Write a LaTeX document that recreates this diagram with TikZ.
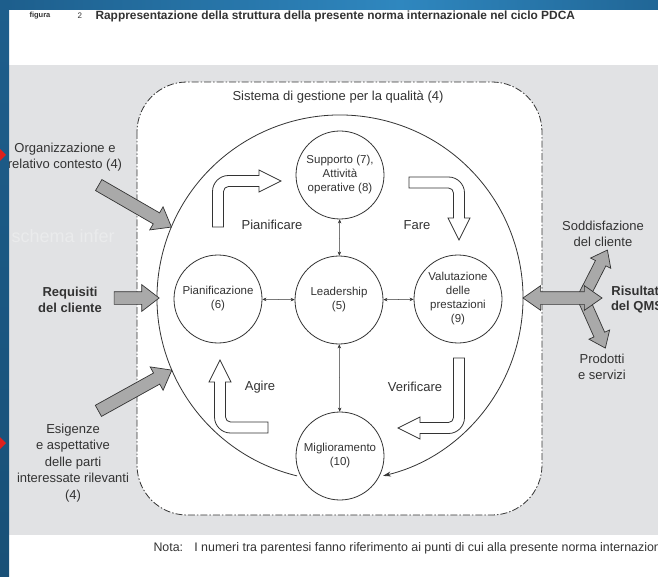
\documentclass[tikz,border=0pt]{standalone}
\usepackage{fontspec}
\setmainfont{Liberation Sans}
\usetikzlibrary{shapes.arrows,arrows.meta}

\definecolor{ink}{HTML}{333333}
\definecolor{panel}{HTML}{E1E2E4}
\definecolor{flowgrey}{HTML}{A9A9A9}
\definecolor{bluedark}{HTML}{1D5E8C}
\definecolor{bluemid}{HTML}{2F87BF}
\definecolor{redmark}{HTML}{E0201C}

\tikzset{
  proc/.style={circle, draw=ink, line width=0.8pt, fill=white, minimum size=88pt,
    inner sep=0pt, align=center, text=ink, font=\fontsize{11.5}{14}\selectfont},
  lbl/.style={align=center, text=ink, font=\fontsize{13}{16.5}\selectfont},
  hollow/.style={draw=ink, fill=white, line width=0.8pt},
  link/.style={{Stealth[length=4pt,width=3.5pt]}-{Stealth[length=4pt,width=3.5pt]}, line width=0.5pt, draw=ink},
  inflow/.style={single arrow, draw=ink, fill=flowgrey, line width=0.7pt, minimum width=26pt,
    single arrow head extend=7pt, single arrow tip angle=75, inner xsep=0pt, inner ysep=6pt},
  outflow/.style={double arrow, draw=ink, fill=flowgrey, line width=0.7pt, minimum width=24pt,
    double arrow head extend=6pt, double arrow tip angle=70, inner xsep=0pt, inner ysep=6pt}
}

\begin{document}
\begin{tikzpicture}[x=1pt,y=-1pt]
\useasboundingbox (0,0) rectangle (658,577);
\fill[white] (0,0) rectangle (658,577);
\fill[panel] (9,65) rectangle (658,535);
\node (ghost) [anchor=west, text=white!30!panel, font=\fontsize{18}{18}\selectfont] at (8,236) {schema infer};

% quality management system
\draw[draw=ink, fill=white, line width=0.8pt, rounded corners=50pt,
  dash pattern=on 7pt off 2pt on 1.5pt off 2pt] (137,82) rectangle (542,515);
\node (qmsname) [lbl] at (338,97) {Sistema di gestione per la qualità (4)};
\coordinate (pdca) at (340,298);
\draw[ink, line width=0.8pt, -{Stealth[length=8pt,width=5pt]}]
  (pdca) ++(103.6:183) arc[start angle=103.6, end angle=436.4, radius=183];

% PDCA arrows
\draw[hollow] (212.5,227) -- (212.5,191.5) .. controls (212.5,182.67) and (219.67,175.5) .. (228.5,175.5)
  -- (259,175.5) -- (259,170) -- (281,181) -- (259,192) -- (259,186.5) -- (228.5,186.5)
  .. controls (225.74,186.5) and (223.5,188.74) .. (223.5,191.5) -- (223.5,227) -- cycle;
\draw[hollow] (409,177) -- (448.5,177) .. controls (457.33,177) and (464.5,184.17) .. (464.5,193)
  -- (464.5,218) -- (470,218) -- (459,240) -- (448,218) -- (453.5,218) -- (453.5,193)
  .. controls (453.5,190.24) and (451.26,188) .. (448.5,188) -- (409,188) -- cycle;
\draw[hollow] (453.5,358) -- (464.5,358) -- (464.5,417.5) .. controls (464.5,426.33) and (457.33,433.5) .. (448.5,433.5)
  -- (420,433.5) -- (420,439) -- (398,428) -- (420,417) -- (420,422.5) -- (448.5,422.5)
  .. controls (451.26,422.5) and (453.5,420.26) .. (453.5,417.5) -- cycle;
\draw[hollow] (268,422) -- (268,433) -- (230.5,433) .. controls (221.67,433) and (214.5,425.83) .. (214.5,417)
  -- (214.5,382) -- (209,382) -- (220,360) -- (231,382) -- (225.5,382) -- (225.5,417)
  .. controls (225.5,419.76) and (227.74,422) .. (230.5,422) -- cycle;
\node (plan) [lbl] at (272,225) {Pianificare};
\node (do) [lbl] at (417,225) {Fare};
\node (check) [lbl] at (415,387) {Verificare};
\node (act) [lbl] at (260,387) {Agire};

% clauses
\node (sup) [proc] at (340,175) {Supporto (7),\\Attività\\operative (8)};
\node (lead) [proc] at (339,300) {Leadership\\(5)};
\node (pian) [proc] at (218,299) {Pianificazione\\(6)};
\node (val) [proc] at (458,299) {Valutazione\\delle\\prestazioni\\(9)};
\node (mig) [proc] at (340,456) {Miglioramento\\(10)};
\draw[link] (lead) -- (sup);
\draw[link] (lead) -- (mig);
\draw[link] (lead) -- (pian);
\draw[link] (lead) -- (val);

% inputs
\node (ctxarrow) [inflow, minimum height=84pt, rotate=-30] at (131.5,204) {};
\node (reqarrow) [inflow, minimum height=45pt] at (132.5,298) {};
\node (needarrow) [inflow, minimum height=84pt, rotate=29] at (131.5,392.5) {};
\node (ctx) [lbl] at (65,157) {Organizzazione e\\relativo contesto (4)};
\node (req) [lbl, font=\fontsize{13}{16.5}\selectfont\bfseries] at (70,300) {Requisiti\\del cliente};
\node (need) [lbl] at (73,463) {Esigenze\\e aspettative\\delle parti\\interessate rilevanti\\(4)};

% outputs
\node (satarrow) [inflow, minimum width=22pt, single arrow head extend=5.5pt, inner ysep=5.5pt,
  minimum height=50pt, rotate=63] at (594.3,275.7) {};
\node (prodarrow) [inflow, minimum width=22pt, single arrow head extend=5.5pt, inner ysep=5.5pt,
  minimum height=51pt, rotate=-66] at (593.4,321.3) {};
\node (resarrow) [outflow, minimum height=79pt] at (562.5,298) {};
\node (sat) [lbl] at (603,234) {Soddisfazione\\del cliente};
\node (res) [lbl, font=\fontsize{13}{15}\selectfont\bfseries] at (637,300) {Risultati\\del QMS};
\node (prod) [lbl] at (602,367) {Prodotti\\e servizi};

% caption and note
\node (figlbl) [anchor=west, text=ink, font=\fontsize{7.5}{8}\selectfont\bfseries] at (26,16) {figura};
\node (fignum) [anchor=west, text=ink, font=\fontsize{8}{9}\selectfont] at (74,16) {2};
\node (title) [anchor=west, text=ink, font=\fontsize{11.9}{14}\selectfont\bfseries] at (92,16)
  {Rappresentazione della struttura della presente norma internazionale nel ciclo PDCA};
\node (nota) [anchor=west, text=ink, font=\fontsize{12.4}{14}\selectfont] at (150,548)
  {Nota:\hspace{0.9em}I numeri tra parentesi fanno riferimento ai punti di cui alla presente norma internazionale};

% slide frame
\shade[left color=bluedark, right color=bluemid] (0,0) rectangle (400,10);
\shade[left color=bluemid, right color=bluedark!80!bluemid] (400,0) rectangle (658,10);
\shade[top color=bluedark, bottom color=bluedark!85!black] (0,0) rectangle (9,577);
\fill[redmark] (0,149) -- (6,155) -- (0,161) -- cycle;
\fill[redmark] (0,437) -- (6,443) -- (0,449) -- cycle;
\end{tikzpicture}
\end{document}
